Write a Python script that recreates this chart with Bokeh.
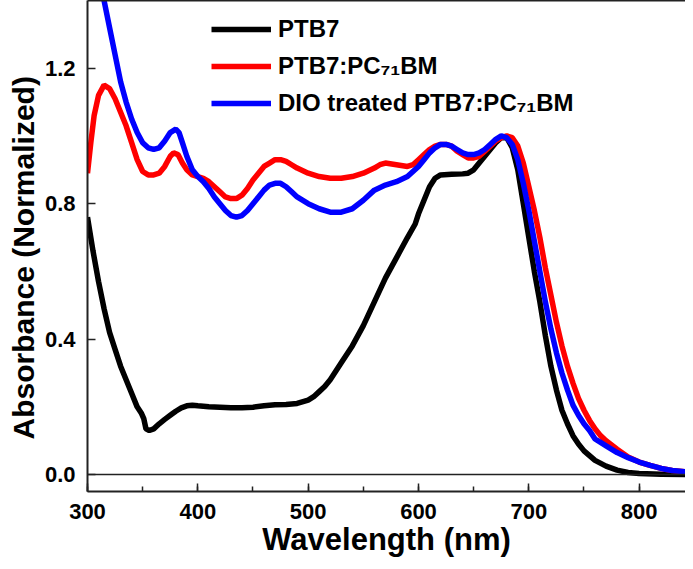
from bokeh.plotting import figure
from bokeh.models import (Range1d, LinearAxis, FixedTicker, SingleIntervalTicker,
                          PrintfTickFormatter, Legend, LegendItem, Span, Title)
from bokeh.embed import file_html
from bokeh.resources import INLINE

# ---------------- data ----------------
ptb7_wl = [300, 305, 310, 315, 320, 325, 330, 335, 340, 345, 349, 351, 353, 356, 360,
           365, 370, 375, 380, 385, 390, 395, 400, 410, 420, 430, 440, 450, 460, 470,
           480, 490, 500, 505, 510, 515, 520, 525, 530, 540, 550, 560, 570, 580, 590,
           597, 600, 605, 610, 615, 620, 630, 640, 645, 650, 655, 660, 665, 670, 675,
           680, 685, 690, 695, 700, 705, 710, 715, 720, 725, 730, 735, 740, 745, 750,
           760, 770, 780, 790, 800, 820, 842]
ptb7_abs = [0.76, 0.66, 0.57, 0.49, 0.42, 0.37, 0.32, 0.28, 0.24, 0.20, 0.18, 0.165, 0.135, 0.13, 0.135,
            0.15, 0.163, 0.175, 0.187, 0.197, 0.203, 0.205, 0.203, 0.200, 0.199, 0.197, 0.197, 0.199, 0.203, 0.206,
            0.207, 0.21, 0.22, 0.23, 0.245, 0.26, 0.28, 0.305, 0.33, 0.38, 0.44, 0.51, 0.58, 0.64, 0.70,
            0.74, 0.77, 0.81, 0.85, 0.875, 0.885, 0.887, 0.888, 0.89, 0.90, 0.92, 0.94, 0.96, 0.98, 0.995,
            0.995, 0.965, 0.90, 0.80, 0.70, 0.60, 0.51, 0.41, 0.32, 0.25, 0.19, 0.15, 0.115, 0.09, 0.07,
            0.042, 0.025, 0.013, 0.006, 0.003, 0.001, 0.0]

blend_wl = [300, 303, 306, 310, 315, 320, 325, 330, 335, 340, 345, 350, 355, 360, 365,
            370, 375, 378, 382, 386, 390, 395, 400, 405, 410, 415, 420, 425, 430, 435,
            440, 445, 450, 455, 460, 465, 470, 475, 480, 485, 490, 500, 510, 520, 530,
            540, 550, 560, 565, 570, 580, 590, 595, 600, 605, 610, 615, 620, 625, 630,
            635, 640, 645, 650, 655, 660, 665, 670, 675, 680, 685, 690, 695, 700, 705,
            710, 715, 720, 725, 730, 735, 740, 745, 750, 755, 760, 765, 770, 780, 790,
            800, 810, 820, 830, 842]
blend_abs = [0.89, 0.98, 1.06, 1.12, 1.15, 1.14, 1.11, 1.07, 1.03, 0.98, 0.93, 0.895, 0.885, 0.885, 0.89,
             0.91, 0.94, 0.95, 0.945, 0.92, 0.90, 0.885, 0.88, 0.875, 0.865, 0.85, 0.835, 0.82, 0.815, 0.815,
             0.825, 0.845, 0.87, 0.89, 0.91, 0.92, 0.93, 0.93, 0.925, 0.915, 0.905, 0.89, 0.88, 0.875, 0.875,
             0.88, 0.89, 0.905, 0.915, 0.92, 0.915, 0.91, 0.915, 0.93, 0.945, 0.96, 0.97, 0.975, 0.975, 0.97,
             0.955, 0.945, 0.935, 0.935, 0.94, 0.955, 0.97, 0.985, 0.995, 1.0, 0.995, 0.97, 0.92, 0.85, 0.78,
             0.70, 0.61, 0.53, 0.45, 0.38, 0.32, 0.27, 0.225, 0.19, 0.16, 0.135, 0.115, 0.10, 0.075, 0.052,
             0.037, 0.027, 0.018, 0.012, 0.008]

dio_wl = [300, 305, 310, 315, 320, 325, 330, 335, 340, 345, 350, 355, 360, 365, 370,
          375, 380, 383, 386, 390, 395, 400, 405, 410, 415, 420, 425, 430, 435, 440,
          445, 450, 455, 460, 465, 470, 475, 480, 485, 490, 500, 510, 520, 530, 540,
          550, 560, 570, 580, 590, 600, 605, 610, 615, 620, 625, 630, 635, 640, 645,
          650, 655, 660, 665, 670, 675, 680, 685, 690, 695, 700, 705, 710, 715, 720,
          725, 730, 735, 740, 745, 750, 755, 760, 765, 770, 780, 790, 800, 810, 820,
          830, 842]
dio_abs = [1.80, 1.65, 1.52, 1.40, 1.32, 1.24, 1.16, 1.10, 1.05, 1.01, 0.98, 0.965, 0.96, 0.965, 0.985,
           1.01, 1.02, 1.01, 0.98, 0.94, 0.90, 0.88, 0.865, 0.845, 0.82, 0.80, 0.78, 0.765, 0.76, 0.765,
           0.78, 0.80, 0.82, 0.84, 0.855, 0.86, 0.86, 0.85, 0.835, 0.82, 0.80, 0.785, 0.775, 0.775, 0.785,
           0.81, 0.84, 0.855, 0.865, 0.88, 0.91, 0.93, 0.95, 0.965, 0.975, 0.975, 0.97, 0.96, 0.95, 0.945,
           0.945, 0.95, 0.96, 0.975, 0.99, 1.0, 0.995, 0.975, 0.93, 0.86, 0.78, 0.69, 0.60, 0.51, 0.43,
           0.36, 0.30, 0.25, 0.205, 0.175, 0.15, 0.13, 0.105, 0.095, 0.085, 0.065, 0.05, 0.037, 0.027, 0.018,
           0.012, 0.008]

series_names = ["PTB7", "PTB7:PC\u2087\u2081BM", "DIO treated PTB7:PC\u2087\u2081BM"]
series_colors = ["#000000", "#ff0000", "#0000ff"]
x_ticks_interval = 100
y_ticks = [0.0, 0.4, 0.8, 1.2]
x_title = "Wavelength (nm)"
y_title = "Absorbance (Normalized)"

FONT = "Liberation Sans"

p = figure(width=685, height=561, output_backend="svg", toolbar_location=None,
           x_range=Range1d(300, 842), y_range=Range1d(-0.05, 1.40),
           min_border_left=87, min_border_right=0, min_border_top=0, min_border_bottom=70,
           x_axis_type=None, y_axis_type=None)
p.outline_line_color = None
p.grid.visible = False
p.background_fill_color = "white"
p.border_fill_color = "white"

xaxis = LinearAxis(ticker=SingleIntervalTicker(interval=x_ticks_interval, num_minor_ticks=2))
yaxis = LinearAxis(ticker=FixedTicker(ticks=y_ticks), formatter=PrintfTickFormatter(format="%.1f"))
top_axis = LinearAxis(ticker=FixedTicker(ticks=[]))

for ax in (xaxis, yaxis):
    ax.axis_line_color = "#222222"
    ax.axis_line_width = 2
    ax.major_tick_line_color = "#222222"
    ax.major_tick_line_width = 1.5
    ax.major_tick_in = 8
    ax.major_tick_out = 0
    ax.minor_tick_line_color = "#222222"
    ax.minor_tick_line_width = 1.5
    ax.minor_tick_in = 5
    ax.minor_tick_out = 0
    ax.major_label_text_font = FONT
    ax.major_label_text_font_style = "bold"
    ax.major_label_text_font_size = "22px"
    ax.major_label_text_color = "#000000"
    ax.axis_label_text_font = FONT
    ax.axis_label_text_font_style = "bold"
    ax.axis_label_text_font_size = "31px"
    ax.axis_label_text_color = "#000000"

yaxis.minor_tick_line_color = None
xaxis.major_label_standoff = 12
yaxis.major_label_standoff = 12
xaxis.axis_label = x_title
xaxis.axis_label_standoff = 0

top_axis.axis_line_color = "#222222"
top_axis.axis_line_width = 2
top_axis.major_tick_out = 0
top_axis.major_tick_in = 0
top_axis.minor_tick_line_color = None
top_axis.major_label_standoff = 0
top_axis.major_label_text_font_size = "0px"

p.add_layout(xaxis, "below")
p.add_layout(yaxis, "left")
p.add_layout(top_axis, "above")

# y-axis title as a side title (starts a little above the frame bottom, as in the original)
p.add_layout(Title(text=y_title, align="left", offset=52, standoff=4,
                   text_font=FONT, text_font_style="bold", text_font_size="30px",
                   text_color="#000000"), "left")

p.add_layout(Span(location=0, dimension="width", line_color="#222222", line_width=1.5))

r1 = p.line(ptb7_wl, ptb7_abs, line_color=series_colors[0], line_width=5.5)
r2 = p.line(blend_wl, blend_abs, line_color=series_colors[1], line_width=5.5)
r3 = p.line(dio_wl, dio_abs, line_color=series_colors[2], line_width=5.5)

legend = Legend(items=[LegendItem(label=series_names[0], renderers=[r1]),
                       LegendItem(label=series_names[1], renderers=[r2]),
                       LegendItem(label=series_names[2], renderers=[r3])],
                location=(124, 373))
legend.border_line_color = None
legend.background_fill_alpha = 0
legend.padding = 0
legend.margin = 0
legend.spacing = 7
legend.glyph_width = 60
legend.glyph_height = 30
legend.label_height = 30
legend.label_standoff = 7
legend.label_text_font = FONT
legend.label_text_font_style = "bold"
legend.label_text_font_size = "24px"
legend.label_text_color = "#000000"
p.add_layout(legend, "center")

open("out.html", "w").write(file_html(p, INLINE))
